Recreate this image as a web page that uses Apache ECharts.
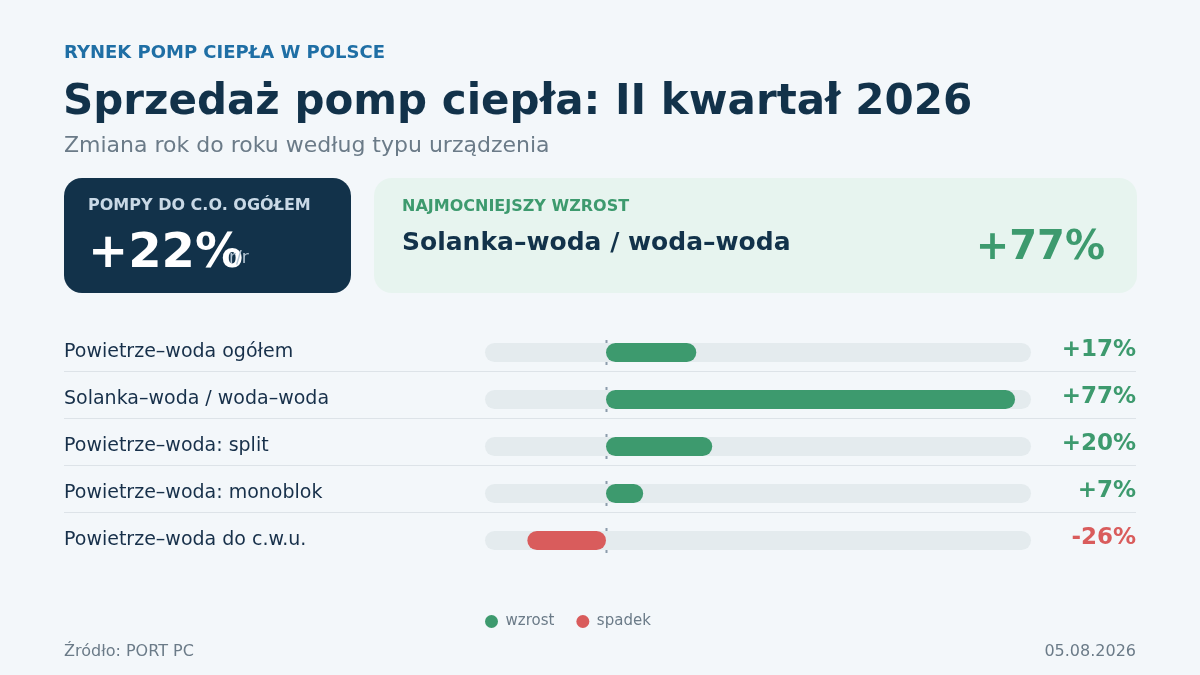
<!DOCTYPE html>
<html>
<head>
<meta charset="utf-8">
<script src="https://cdn.jsdelivr.net/npm/echarts@6/dist/echarts.min.js"></script>
<style>
  html, body { margin: 0; padding: 0; background: #f3f7fa; }
  #chart { width: 1200px; height: 675px; }
</style>
</head>
<body>
<div id="chart"></div>
<script>
// dane z wykresu
var categories = ['Powietrze–woda ogółem', 'Solanka–woda / woda–woda', 'Powietrze–woda: split', 'Powietrze–woda: monoblok', 'Powietrze–woda do c.w.u.'];
var changes = [17, 77, 20, 7, -26];
var totalChange = 22;
var topName = 'Solanka–woda / woda–woda';
var topChange = 77;
var negRange = [-40, 0];
var posRange = [0, 80];

var FONT = 'DejaVu Sans';
var GREEN = '#3d9a6e', RED = '#d95c5c', DARK = '#12324a', GRAY = '#6b7b88';

function fmt(v) { return (v > 0 ? '+' : '') + v + '%'; }

var chart = echarts.init(document.getElementById('chart'));

var gridTop = 329, gridH = 235;
var rowH = gridH / categories.length;

// linie oddzielające wiersze
var separators = [];
for (var i = 0; i < categories.length - 1; i++) {
  var y = Math.round(gridTop + rowH * (i + 0.5) + 18.5) + 0.5;
  separators.push({
    type: 'line', z: 1,
    shape: { x1: 64, y1: y, x2: 1136, y2: y },
    style: { stroke: '#dde3e8', lineWidth: 1 }
  });
}

function txt(text, x, y, size, weight, fill, align) {
  return {
    type: 'text', z: 10,
    style: {
      text: text, x: x, y: y,
      fontFamily: FONT, fontSize: size, fontWeight: weight,
      fill: fill, align: align || 'left', verticalAlign: 'middle'
    }
  };
}

var option = {
  backgroundColor: '#f3f7fa',
  animation: false,
  textStyle: { fontFamily: FONT },
  legend: {
    data: ['wzrost', 'spadek'],
    left: 485, top: 614, padding: 0,
    icon: 'circle', itemWidth: 14, itemHeight: 13, itemGap: 22,
    textStyle: { color: GRAY, fontSize: 15, fontFamily: FONT, padding: [0, 0, 0, 2] }
  },
  grid: [
    { left: 485, width: 546, top: gridTop, height: gridH },
    { left: 485, width: 121, top: gridTop, height: gridH },
    { left: 606, width: 425, top: gridTop, height: gridH }
  ],
  xAxis: [
    { gridIndex: 0, type: 'value', min: negRange[0], max: posRange[1], show: false },
    { gridIndex: 1, type: 'value', min: negRange[0], max: negRange[1], show: false },
    { gridIndex: 2, type: 'value', min: posRange[0], max: posRange[1], show: false }
  ],
  yAxis: [
    {
      gridIndex: 0, type: 'category', data: categories, inverse: true,
      axisLine: { show: false }, axisTick: { show: false }, splitLine: { show: false },
      axisLabel: { align: 'left', margin: 421, fontSize: 19, color: '#17304a', fontFamily: FONT, padding: [0, 0, 5, 0] }
    },
    { gridIndex: 1, type: 'category', data: categories, inverse: true, show: false },
    {
      gridIndex: 2, type: 'category', data: categories, inverse: true, position: 'right',
      axisLine: { show: false }, axisTick: { show: false }, splitLine: { show: false },
      axisLabel: {
        align: 'right', margin: 105, padding: [0, 0, 5, 0],
        formatter: function (val, idx) {
          var v = changes[idx];
          return '{' + (v < 0 ? 'n' : 'p') + '|' + fmt(v) + '}';
        },
        rich: {
          p: { color: GREEN, fontSize: 23, fontWeight: 'bold', fontFamily: FONT },
          n: { color: RED, fontSize: 23, fontWeight: 'bold', fontFamily: FONT }
        }
      }
    }
  ],
  series: [
    {
      // tor pod słupkami
      name: 'tor', type: 'bar', xAxisIndex: 0, yAxisIndex: 0, z: 2,
      data: changes, barWidth: 19, silent: true,
      itemStyle: { color: 'rgba(0,0,0,0)' },
      showBackground: true,
      backgroundStyle: { color: '#e4ebee', borderRadius: 10 }
    },
    {
      // przerywana linia zera
      name: 'zero', type: 'custom', xAxisIndex: 2, yAxisIndex: 2, z: 1, silent: true,
      data: changes.map(function (v, i) { return [0, i]; }),
      renderItem: function (params, api) {
        var p = api.coord([0, api.value(1)]);
        return {
          type: 'line',
          shape: { x1: p[0] + 0.5, y1: p[1] - 12.5, x2: p[0] + 0.5, y2: p[1] + 12.5 },
          style: { stroke: '#8c9cab', lineWidth: 2, lineDash: [3, 2.5] }
        };
      }
    },
    {
      name: 'spadek', type: 'bar', xAxisIndex: 1, yAxisIndex: 1, z: 3,
      data: changes.map(function (v) { return v < 0 ? v : '-'; }),
      barWidth: 19, itemStyle: { color: RED, borderRadius: 10 }
    },
    {
      name: 'wzrost', type: 'bar', xAxisIndex: 2, yAxisIndex: 2, z: 3,
      data: changes.map(function (v) { return v > 0 ? v : '-'; }),
      barWidth: 19, itemStyle: { color: GREEN, borderRadius: 10 }
    }
  ],
  graphic: [
    txt('RYNEK POMP CIEPŁA W POLSCE', 64, 53, 18, 'bold', '#1f6fa5'),
    txt('Sprzedaż pomp ciepła: II kwartał 2026', 63, 103, 42, 'bold', DARK),
    txt('Zmiana rok do roku według typu urządzenia', 64, 146, 22, 'normal', GRAY),
    {
      type: 'rect', z: 5,
      shape: { x: 64, y: 178, width: 287, height: 115, r: 18 },
      style: { fill: DARK }
    },
    txt('POMPY DO C.O. OGÓŁEM', 88, 206, 16, 'bold', '#c9d9e6'),
    txt(fmt(totalChange), 88, 255, 48, 'bold', '#ffffff'),
    txt('r/r', 229, 259, 17, 'normal', '#b5c6d4'),
    {
      type: 'rect', z: 5,
      shape: { x: 374, y: 178, width: 763, height: 115, r: 18 },
      style: { fill: '#e7f4ef' }
    },
    txt('NAJMOCNIEJSZY WZROST', 402, 207, 16, 'bold', GREEN),
    txt(topName, 402, 243, 25, 'bold', DARK),
    txt(fmt(topChange), 1105, 249, 40, 'bold', GREEN, 'right'),
    txt('Źródło: PORT PC', 64, 652, 16, 'normal', GRAY),
    txt('05.08.2026', 1136, 652, 16, 'normal', GRAY, 'right')
  ].concat(separators)
};

chart.setOption(option);
</script>
</body>
</html>
